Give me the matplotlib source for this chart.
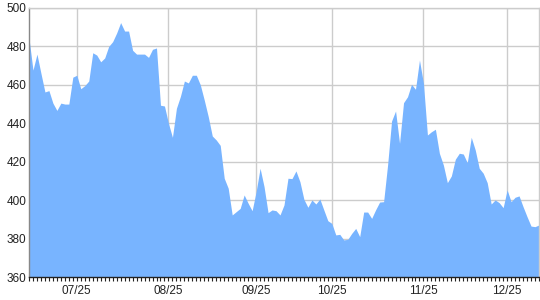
import matplotlib
matplotlib.use("Agg")
import matplotlib.pyplot as plt
from matplotlib.ticker import MultipleLocator, FixedLocator

values = [
    484.2, 467.7, 476.0, 466.0, 456.3, 457.0, 450.5, 446.7, 450.5, 450.0,
    450.0, 464.0, 465.0, 458.0, 459.6, 462.0, 476.7, 475.5, 472.0, 474.0,
    480.0, 482.5, 487.0, 492.4, 488.0, 488.0, 478.0, 476.0, 476.0, 476.0,
    474.3, 478.5, 479.2, 449.4, 449.0, 440.0, 432.7, 447.8, 454.0, 462.0,
    461.0, 465.0, 465.0, 460.0, 452.0, 443.4, 433.4, 431.3, 428.5, 411.4,
    406.2, 392.3, 394.0, 395.7, 402.7, 398.4, 394.5, 404.4, 416.6, 407.0,
    393.5, 394.9, 394.5, 392.3, 397.5, 411.4, 411.2, 415.2, 409.6, 400.4,
    396.3, 400.1, 398.0, 400.6, 394.9, 389.3, 387.9, 381.9, 382.2, 379.3,
    379.6, 382.7, 385.3, 381.0, 393.8, 393.8, 390.5, 395.0, 399.0, 399.2,
    418.3, 441.2, 446.4, 429.6, 450.7, 453.8, 460.3, 457.7, 472.9, 460.8,
    433.9, 435.6, 436.9, 424.4, 418.3, 409.1, 412.6, 421.3, 424.4, 424.0,
    419.5, 432.7, 426.1, 416.6, 414.0, 409.1, 398.0, 400.1, 398.7, 396.1,
    405.3, 399.2, 401.5, 402.2, 396.6, 391.4, 386.5, 386.2, 387.1,
]
tick_index = [12, 35, 57, 76, 99, 120]
tick_labels = ["07/25", "08/25", "09/25", "10/25", "11/25", "12/25"]
y_ticks = [360, 380, 400, 420, 440, 460, 480, 500]

plt.rcParams['font.family'] = ['Liberation Sans', 'DejaVu Sans']

fig = plt.figure(figsize=(5.4, 3.0), dpi=100)
ax = fig.add_axes([29/540, 1-277/300, 510/540, 269/300])

x = list(range(len(values)))
ax.fill_between(x, 360, values, color='#78b4ff', linewidth=0, zorder=2)

ax.set_xlim(0, len(values) - 1)
ax.set_ylim(360, 500)
ax.set_yticks(y_ticks)
ax.xaxis.set_major_locator(FixedLocator(tick_index))
ax.set_xticklabels(tick_labels)
ax.xaxis.set_minor_locator(MultipleLocator(1))

ax.grid(True, which='major', color='#cccccc', linewidth=1.0, zorder=1)
ax.set_axisbelow(True)

ax.tick_params(axis='y', length=0, pad=2, labelsize=8.5, labelcolor='#222222')
ax.tick_params(axis='x', which='both', length=3, width=0.8, color='#222222',
               direction='out', pad=3, labelsize=8.5, labelcolor='#222222')

for side in ['top', 'right']:
    ax.spines[side].set_color('#cccccc')
    ax.spines[side].set_linewidth(1.0)
ax.spines['left'].set_color('#888888')
ax.spines['left'].set_linewidth(1.0)
ax.spines['bottom'].set_color('#222222')
ax.spines['bottom'].set_linewidth(1.0)
ax.spines['bottom'].set_zorder(3)

fig.savefig('out.png', dpi=100)
